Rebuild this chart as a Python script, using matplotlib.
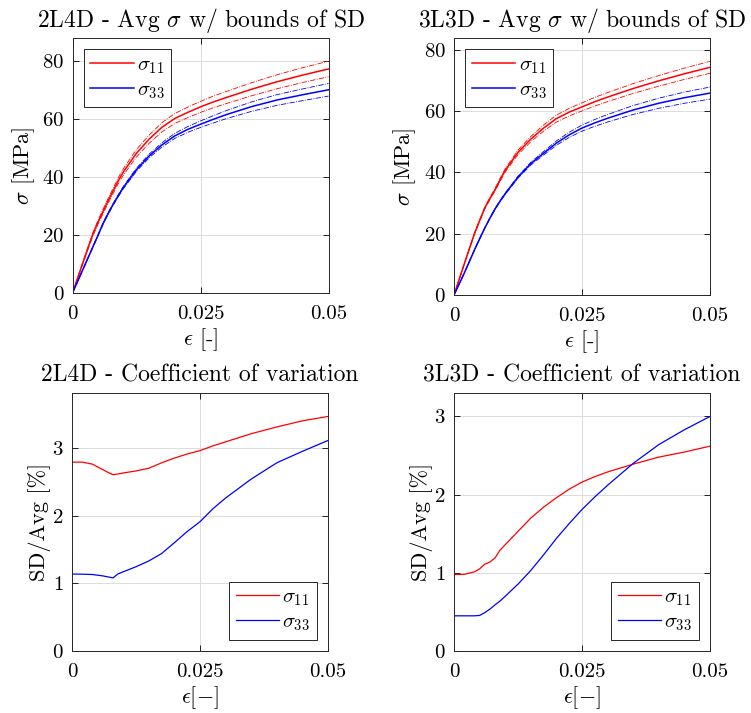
import numpy as np
import matplotlib.pyplot as plt

plt.rcParams['font.family'] = 'cmr10'
plt.rcParams['mathtext.fontset'] = 'cm'
plt.rcParams['axes.formatter.use_mathtext'] = True
plt.rcParams['font.size'] = 15

eps = [0, 0.002, 0.004, 0.005, 0.006, 0.007, 0.008, 0.009, 0.01, 0.0125, 0.015,
       0.0175, 0.02, 0.0225, 0.025, 0.0275, 0.03, 0.035, 0.04, 0.045, 0.05]

# 2L4D average stress [MPa]
avg11_2l4d = [0, 10.3, 20.4, 24.5, 28.3, 32, 35.5, 39, 42, 48.3, 53.2,
              57.3, 60.3, 62.4, 64.3, 66, 67.5, 70.4, 73, 75.3, 77.4]
avg33_2l4d = [0, 8, 16, 20, 24.1, 27.6, 30.8, 33.8, 36.6, 42.6, 47.4,
              51.2, 54.3, 56.5, 58.3, 60, 61.6, 64.4, 66.7, 68.5, 70.2]
# 3L3D average stress [MPa]
avg11_3l3d = [0, 10.1, 20, 24.2, 28.3, 31.4, 34.3, 37.5, 40.6, 46.5, 50.8,
              54.4, 57.5, 59.6, 61.3, 63, 64.5, 67.3, 69.8, 72.1, 74.2]
avg33_3l3d = [0, 7.1, 14.7, 18.3, 21.8, 25, 28, 30.6, 33, 38.4, 42.8,
              46.2, 49.5, 52.2, 54.4, 56.1, 57.6, 60.3, 62.5, 64.3, 65.8]

# coefficient of variation SD/Avg [%]
cov11_2l4d = [2.79, 2.79, 2.76, 2.72, 2.68, 2.64, 2.605, 2.615, 2.63, 2.66, 2.70,
              2.78, 2.85, 2.91, 2.96, 3.03, 3.09, 3.21, 3.31, 3.40, 3.465]
cov33_2l4d = [1.137, 1.135, 1.13, 1.12, 1.11, 1.095, 1.08, 1.14, 1.17, 1.245, 1.33,
              1.44, 1.60, 1.765, 1.91, 2.10, 2.26, 2.54, 2.78, 2.95, 3.11]
cov11_3l3d = [0.978, 0.98, 1.013, 1.05, 1.11, 1.137, 1.19, 1.29, 1.36, 1.53, 1.70,
              1.84, 1.96, 2.07, 2.16, 2.23, 2.29, 2.39, 2.48, 2.545, 2.62]
cov33_3l3d = [0.45, 0.45, 0.45, 0.455, 0.49, 0.535, 0.59, 0.64, 0.70, 0.855, 1.03,
              1.23, 1.44, 1.63, 1.81, 1.97, 2.12, 2.40, 2.64, 2.83, 3.0]

fig = plt.figure(figsize=(7.51, 7.13), dpi=100)
W, H = 751, 713
boxes = [(72.5, 38, 256, 255), (454, 38, 256, 257),
         (72, 393, 256, 258), (454, 393, 256, 258)]
axs = [fig.add_axes([x / W, 1 - (y + h) / H, w / W, h / H]) for x, y, w, h in boxes]

def style(ax, ymax, yticks):
    ax.set_xlim(0, 0.05)
    ax.set_ylim(0, ymax)
    ax.set_xticks([0, 0.025, 0.05])
    ax.set_xticklabels(['0', '0.025', '0.05'])
    ax.set_yticks(yticks)
    ax.tick_params(direction='in', top=True, right=True, length=4, width=0.6)
    ax.tick_params(axis='x', pad=9)
    ax.tick_params(axis='y', pad=6)
    ax.grid(True, color='#dcdcdc', linewidth=0.7)
    ax.set_axisbelow(True)
    for s in ax.spines.values():
        s.set_linewidth(0.7)
        s.set_color('#262626')

def legend(ax, loc):
    leg = ax.legend(loc=loc, fontsize=15, handlelength=2.1, fancybox=False,
                    edgecolor='#262626', framealpha=1, borderpad=0.3, labelspacing=0.25,
                    handletextpad=0.15, borderaxespad=0.55)
    leg.get_frame().set_linewidth(0.7)

e = np.array(eps)
stress = [(avg11_2l4d, avg33_2l4d, cov11_2l4d, cov33_2l4d, '2L4D'),
          (avg11_3l3d, avg33_3l3d, cov11_3l3d, cov33_3l3d, '3L3D')]

for i, (a11, a33, c11, c33, name) in enumerate(stress):
    ax = axs[i]
    a11 = np.array(a11); a33 = np.array(a33)
    sd11 = a11 * np.array(c11) / 100
    sd33 = a33 * np.array(c33) / 100
    ax.plot(e, a11, color='r', lw=1.1, label=r'$\sigma_{11}$')
    ax.plot(e, a33, color='b', lw=1.1, label=r'$\sigma_{33}$')
    for m, s, c in [(a11, sd11, 'r'), (a33, sd33, 'b')]:
        ax.plot(e, m + s, color=c, lw=0.6, ls='-.')
        ax.plot(e, m - s, color=c, lw=0.6, ls='-.')
    ymax = 1.1 * max((a11 + sd11).max(), (a33 + sd33).max())
    style(ax, ymax, [0, 20, 40, 60, 80])
    ax.set_title(name + r' - Avg $\sigma$ w/ bounds of SD', fontsize=17, pad=8)
    ax.set_xlabel(r'$\epsilon$ [-]', fontsize=16, labelpad=2)
    ax.set_ylabel(r'$\sigma$ [MPa]', fontsize=16, labelpad=4)
    legend(ax, 'upper left')

    ax = axs[i + 2]
    ax.plot(e, c11, color='r', lw=0.9, label=r'$\sigma_{11}$')
    ax.plot(e, c33, color='b', lw=0.9, label=r'$\sigma_{33}$')
    ymax = 1.1 * max(max(c11), max(c33))
    style(ax, ymax, [0, 1, 2, 3])
    ax.set_title(name + ' - Coefficient of variation', fontsize=17, pad=8)
    ax.set_xlabel(r'$\epsilon[-]$', fontsize=16, labelpad=2)
    ax.set_ylabel('SD/Avg [%]', fontsize=16, labelpad=1)
    legend(ax, 'lower right')

fig.savefig('out.png', dpi=100)
